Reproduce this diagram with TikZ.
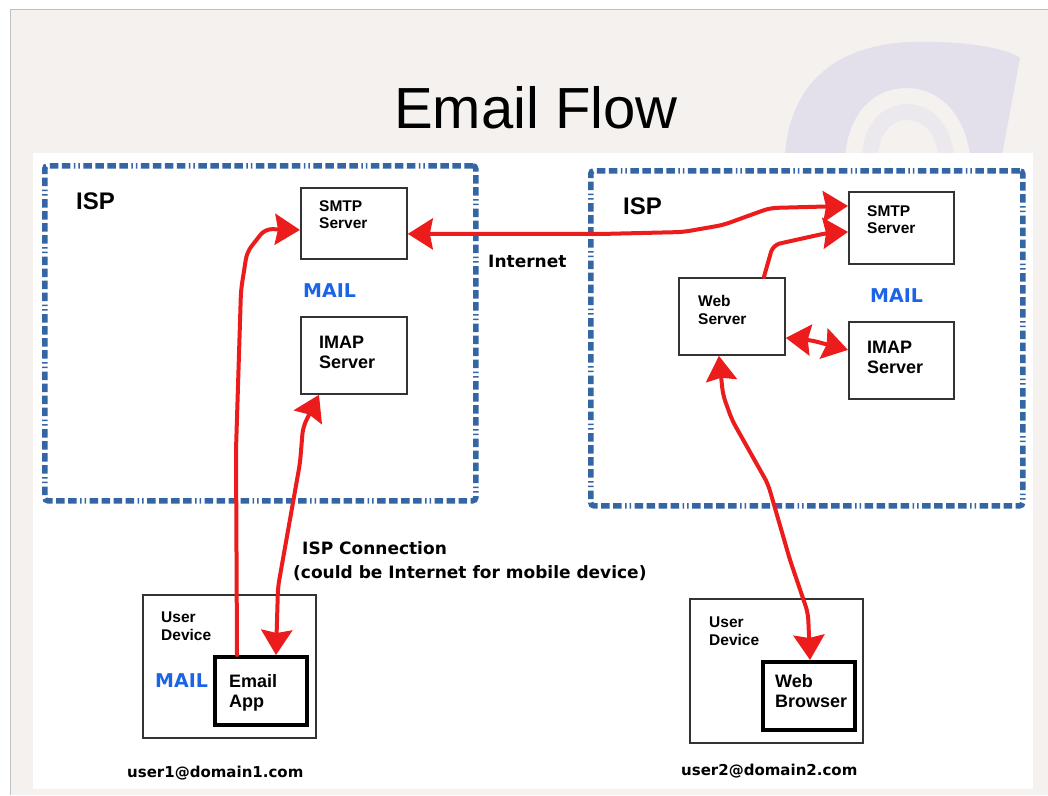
\documentclass[tikz,border=0pt]{standalone}
\usepackage{fontspec}
\setmainfont{Liberation Sans}
\newfontfamily\dvs{DejaVu Sans}
\usetikzlibrary{arrows.meta,calc}
\definecolor{slidebg}{HTML}{F4F1EF}
\definecolor{ispblue}{HTML}{3465A4}
\definecolor{mailblue}{HTML}{1C64E6}
\definecolor{arrowred}{HTML}{EC1C1C}
\definecolor{wmark}{HTML}{E3E0EC}
\definecolor{wmarkin}{HTML}{ECE9EE}
\tikzset{
  ispbox/.style={draw=ispblue, line width=5.5pt, rounded corners=3pt, anchor=north west, inner sep=0pt,
    dash pattern=on 8.5pt off 3.5pt on 8.5pt off 3.5pt on 8.5pt off 3.5pt on 8.5pt off 3.5pt on 1.5pt off 3pt on 1.5pt off 3.5pt},
  srvbox/.style={draw=black!80, line width=1.8pt, anchor=north west, inner sep=0pt},
  appbox/.style={draw=black, line width=4pt, anchor=north west, inner sep=0pt},
  lblsmall/.style={anchor=base west, inner sep=0pt, font=\bfseries\fontsize{15.5}{17}\selectfont},
  lblbig/.style={anchor=base west, inner sep=0pt, font=\bfseries\fontsize{18}{20}\selectfont},
  isplbl/.style={anchor=base west, inner sep=0pt, font=\bfseries\fontsize{24}{26}\selectfont},
  maillbl/.style={anchor=base west, inner sep=0pt, text=mailblue, font=\dvs\bfseries\fontsize{19}{21}\selectfont},
  dvlbl/.style={anchor=base west, inner sep=0pt, font=\dvs\bfseries\fontsize{17}{19}\selectfont},
  addrlbl/.style={anchor=base west, inner sep=0pt, font=\dvs\bfseries\fontsize{15}{17}\selectfont},
  flow/.style={draw=arrowred, line width=4pt, line join=round, line cap=round, rounded corners=7pt,
    >={Stealth[length=25pt,width=31pt,inset=3pt]}},
}
\begin{document}
\begin{tikzpicture}[x=1pt,y=-1pt]
\useasboundingbox (0,0) rectangle (1048,795);
% slide background
\fill[white] (0,0) rectangle (1048,795);
\fill[slidebg] (10,9) rectangle (1048,795);
\draw[black!25, line width=1pt] (10,795) -- (10,9) -- (1048,9);
% watermark
\fill[wmark, even odd rule]
  (785,155) .. controls (790,80) and (840,45) .. (910,42)
  .. controls (970,40) and (1010,50) .. (1020,58) -- (1002,155) -- cycle
  (845,155) .. controls (850,110) and (875,88) .. (907,88)
  .. controls (940,88) and (965,115) .. (970,155) -- cycle;
\fill[wmarkin, even odd rule]
  (862,155) .. controls (864,122) and (884,104) .. (907,104) .. controls (930,104) and (950,122) .. (954,155) -- cycle
  (878,155) .. controls (880,132) and (892,120) .. (907,120) .. controls (922,120) and (936,132) .. (938,155) -- cycle;
% white panel
\fill[white] (33,153) rectangle (1033,789);
% title
\node[anchor=base, inner sep=0pt, font=\fontsize{58}{60}\selectfont] (title) at (536,128) {Email Flow};
% ISP containers
\node[ispbox, minimum width=431pt, minimum height=335pt] (ispL) at (42,163) {};
\node[ispbox, minimum width=432pt, minimum height=335pt] (ispR) at (588,168) {};
\node[isplbl] (ispLt) at (76,209) {ISP};
\node[isplbl] (ispRt) at (623,214) {ISP};
% left ISP servers
\node[srvbox, minimum width=106pt, minimum height=71pt] (smtpL) at (300,187) {};
\node[lblsmall] (smtpLa) at (319,211) {SMTP};
\node[lblsmall] (smtpLb) at (319,228) {Server};
\node[maillbl] (mailL) at (303,297) {MAIL};
\node[srvbox, minimum width=106pt, minimum height=77pt] (imapL) at (300,316) {};
\node[lblbig] (imapLa) at (319,348) {IMAP};
\node[lblbig] (imapLb) at (319,368) {Server};
% right ISP servers
\node[srvbox, minimum width=105pt, minimum height=72pt] (smtpR) at (848,191) {};
\node[lblsmall] (smtpRa) at (867,216) {SMTP};
\node[lblsmall] (smtpRb) at (867,233) {Server};
\node[maillbl] (mailR) at (870,302) {MAIL};
\node[srvbox, minimum width=105pt, minimum height=77pt] (imapR) at (848,321) {};
\node[lblbig] (imapRa) at (867,353) {IMAP};
\node[lblbig] (imapRb) at (867,373) {Server};
\node[srvbox, minimum width=106pt, minimum height=77pt] (web) at (678,277) {};
\node[lblsmall] (weba) at (698,306) {Web};
\node[lblsmall] (webb) at (698,324) {Server};
% free labels
\node[dvlbl] (inet) at (488,267) {Internet};
\node[dvlbl] (ispc1) at (302,554) {ISP Connection};
\node[dvlbl] (ispc2) at (293,578) {(could be Internet for mobile device)};
% user device 1
\node[srvbox, minimum width=173pt, minimum height=143pt] (dev1) at (142,594) {};
\node[lblsmall] (dev1a) at (161,622) {User};
\node[lblsmall] (dev1b) at (161,640) {Device};
\node[maillbl] (mailD) at (155,687) {MAIL};
\node[appbox, minimum width=92pt, minimum height=68pt] (app) at (213,655) {};
\node[lblbig] (appa) at (229,687) {Email};
\node[lblbig] (appb) at (229,707) {App};
\node[addrlbl] (addr1) at (127,777) {user1@domain1.com};
% user device 2
\node[srvbox, minimum width=173pt, minimum height=144pt] (dev2) at (689,598) {};
\node[lblsmall] (dev2a) at (709,627) {User};
\node[lblsmall] (dev2b) at (709,645) {Device};
\node[appbox, minimum width=92pt, minimum height=68pt] (browser) at (761,660) {};
\node[lblbig] (browa) at (775,687) {Web};
\node[lblbig] (browb) at (775,707) {Browser};
\node[addrlbl] (addr2) at (681,775) {user2@domain2.com};
% connectors
\draw[flow, ->] ($(app.north west)+(24,0)$) -- (236,450) -- (241,290) -- (247,252) -- (265,229) -- ($(smtpL.west)+(0,6.5)$);
\draw[flow, <->] ($(imapL.south west)+(19,0)$) -- (303,427) -- (300,463) -- (278,587) -- ($(app.north west)+(63,0)$);
\draw[flow, <->] ($(smtpL.east)+(0,10.5)$) -- (600,234) -- (683,232) -- (723,225) -- (770,208) -- ($(smtpR.west)+(0,-22)$);
\draw[flow, ->] ($(web.north)+(32,0)$) -- (773,245) -- (827,233) -- ($(smtpR.west)+(0,4)$);
\draw[flow, <->] ($(web.east)+(0,21.5)$) -- (810,340) -- ($(imapR.west)+(0,-10.5)$);
\draw[flow, <->] ($(web.south)+(-13,0)$) -- (723,395) -- (732,420) -- (768,484) -- (790,560) -- (808,613) -- ($(browser.north)+(1,0)$);
\end{tikzpicture}
\end{document}
